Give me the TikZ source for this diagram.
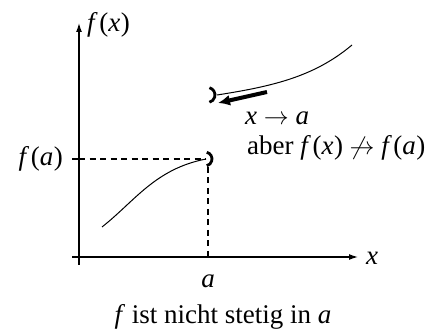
\documentclass[tikz,border=0pt]{standalone}
\usepackage{fontspec}
\usepackage{amsmath,amssymb}
\setmainfont{Liberation Serif}
\usetikzlibrary{arrows.meta, positioning, calc}
\newcommand{\mi}[1]{\textit{#1}}
\newcommand{\fof}[1]{\mi{f}\kern1.5pt(\mi{#1}\kern0.5pt)}

\begin{document}
\begin{tikzpicture}[
  x=1pt, y=1pt,
  font=\fontsize{27}{31}\selectfont,
  axis/.style={line width=1.3pt,-{Latex[length=9pt,width=6pt]}},
  guide/.style={line width=1.3pt,dash pattern=on 6pt off 4.5pt},
  curve/.style={line width=1pt},
  bracket/.style={line width=2.8pt},
  limit/.style={line width=4pt,-{Latex[length=12pt,width=11pt]}},
  lbl/.style={inner sep=0pt}
]
  \useasboundingbox (0,0) rectangle (435,331);

  \coordinate (origin) at (79,74);
  \coordinate (ybot)   at (79,66);
  \coordinate (ytop)   at (79,308);
  \coordinate (xleft)  at (72,74);
  \coordinate (xright) at (358,74);
  \coordinate (ytick)  at (72,172);
  \coordinate (yfa)    at (79,172);
  \coordinate (fa)     at (206,172);
  \coordinate (xa)     at (208,164);
  \coordinate (xaxa)   at (208,74);
  \coordinate (lostart) at (102,104);
  \coordinate (hijump) at (217,236);
  \coordinate (hiend)  at (352,286);
  \coordinate (tail)   at (267,239);
  \coordinate (tip)    at (218,228);

  \node[lbl, anchor=west]      (xlab)  at (366,73)  {\mi{x}};
  \node[lbl, anchor=west]      (ylab)  at (87,306)  {\fof{x}};
  \node[lbl, left=9pt of ytick] (falab) {\fof{a}};
  \node[lbl, anchor=base]      (alab)  at (208,43)  {\mi{a}};
  \node[lbl, anchor=base west] (limx)  at (245,206) {\mi{x} $\rightarrow$ \mi{a}};
  \node[lbl, anchor=base west] (limf)  at (247,176)
    {aber \fof{x} $\not\rightarrow$ \fof{a}};
  \node[lbl, anchor=base]      (caption) at (223,8) {\mi{f} ist nicht stetig in \mi{a}};

  \draw[axis] (ybot) -- (ytop);
  \draw[axis] (xleft) -- (xright);
  \draw[line width=1.3pt] (ytick) -- (yfa);
  \draw[guide] (yfa) -- (fa);
  \draw[guide] (xa) -- (xaxa);

  \draw[curve] (lostart) .. controls (135,130) and (155,162) .. (fa);
  \draw[curve] (hijump) .. controls (275,245) and (315,255) .. (hiend);
  \draw[bracket] ($(fa)+(-1,0)$) ++(75:7) arc (75:-75:7);
  \draw[bracket] ($(hijump)+(-9.5,0)$) ++(75:7.5) arc (75:-75:7.5);
  \draw[limit] (tail) -- (tip);
\end{tikzpicture}
\end{document}
